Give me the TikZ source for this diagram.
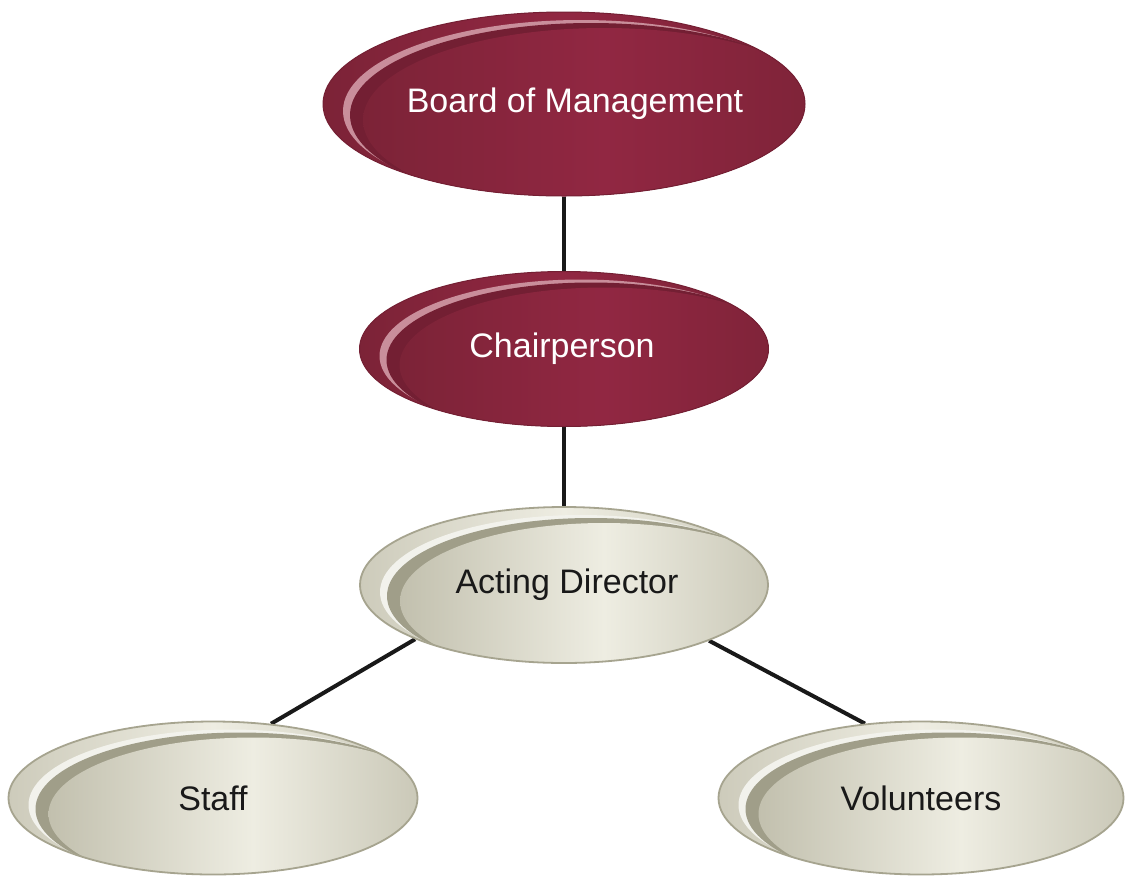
\documentclass[tikz,border=0pt]{standalone}
\usepackage{fontspec}
\setmainfont{Liberation Sans}
\usetikzlibrary{shapes.geometric,calc,backgrounds}
\definecolor{rEdge}{HTML}{7C2337}
\definecolor{rMid}{HTML}{912742}
\definecolor{rLine}{HTML}{741F33}
\definecolor{rStripe}{HTML}{C98E9B}
\definecolor{rBand}{HTML}{731F33}
\definecolor{gEdge}{HTML}{C2C0AE}
\definecolor{gMid}{HTML}{EEEDE2}
\definecolor{gLine}{HTML}{A6A48F}
\definecolor{gRim}{HTML}{CDCBBB}
\definecolor{gStripe}{HTML}{F2F2EC}
\definecolor{gBand}{HTML}{A09E89}
\newcommand\ovdeco[4]{%
  \fill[#1] let \p1=(path picture bounding box.north east),\p2=(path picture bounding box.center) in
    (\x2+17pt,\y2-7pt) ellipse [x radius={\x1-\x2-3pt}, y radius={\y1-\y2-1pt}];
  \fill[#2] let \p1=(path picture bounding box.north east),\p2=(path picture bounding box.center) in
    (\x2+27pt,\y2-11pt) ellipse [x radius={\x1-\x2}, y radius={\y1-\y2}];
  \shade[left color=#3, right color=#3, middle color=#4] let \p1=(path picture bounding box.north east),\p2=(path picture bounding box.center) in
    (\x2+40pt,\y2-16pt) ellipse [x radius={\x1-\x2}, y radius={\y1-\y2}];
}
\tikzset{
  ov/.style 2 args={ellipse, minimum width=#1, minimum height=#2, inner sep=0pt,
    font=\fontsize{34}{40}\selectfont},
  redov/.style={left color=rEdge, right color=rEdge, middle color=rMid,
    draw=rLine, line width=1pt, text=white,
    path picture={\ovdeco{rStripe}{rBand}{rEdge}{rMid}}},
  grayov/.style={left color=gRim, right color=gRim, middle color=gMid,
    draw=gLine, line width=1.8pt, text=black!90,
    path picture={\ovdeco{gStripe}{gBand}{gEdge}{gMid}}},
  conn/.style={line width=4pt, draw=black!90},
}
\begin{document}
\begin{tikzpicture}[x=1pt,y=-1pt]
\useasboundingbox (0,0) rectangle (1125,876);
\node[ov={482pt}{184pt}, redov] (board) at (564,104) {\makebox[0pt]{\hspace{22pt}Board of Management}};
\node[ov={409pt}{155pt}, redov] (chair) at (564,349) {\makebox[0pt]{\hspace{-4pt}Chairperson}};
\node[ov={408pt}{156pt}, grayov] (ad) at (564,585) {\makebox[0pt]{\hspace{6pt}Acting Director}};
\node[ov={409pt}{153pt}, grayov] (staff) at (213,798) {Staff};
\node[ov={405pt}{153pt}, grayov] (vol) at (921,798) {Volunteers};
\begin{scope}[on background layer]
\fill[white] (0,0) rectangle (1125,876);
\draw[conn] (board.south) -- (chair.north);
\draw[conn] (chair.south) -- (ad.north);
\draw[conn] (ad.200) -- (staff.52);
\draw[conn] (ad.339) -- (vol.127);
\end{scope}
\end{tikzpicture}
\end{document}
